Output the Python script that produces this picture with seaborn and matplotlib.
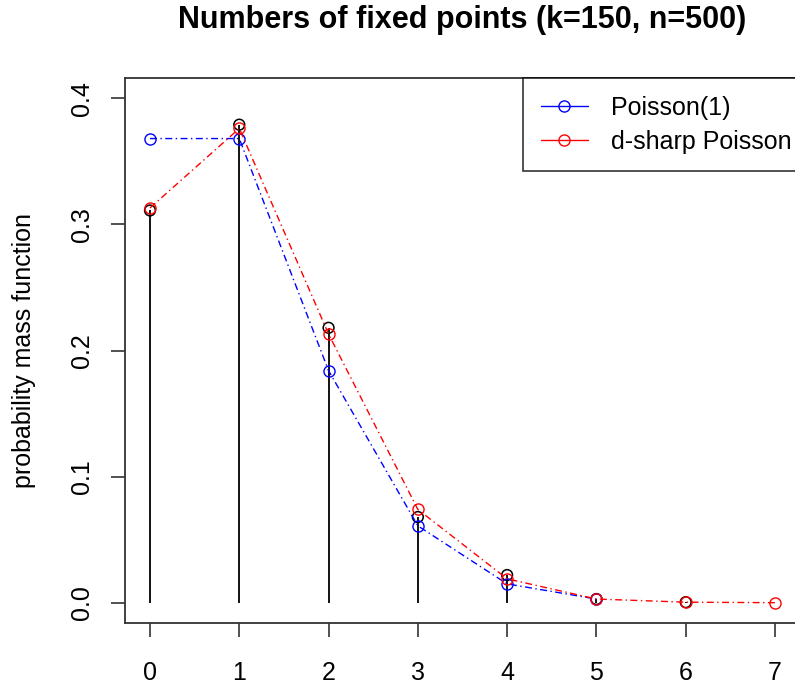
import numpy as np
import pandas as pd
import seaborn as sns
import matplotlib.pyplot as plt
from matplotlib.lines import Line2D

# значения
k_emp = [0, 1, 2, 3, 4, 5, 6]
pmf_emp = [0.311, 0.379, 0.218, 0.068, 0.022, 0.003, 0.0005]

k_pois = [0, 1, 2, 3, 4, 5]
pmf_pois = [0.368, 0.368, 0.184, 0.061, 0.015, 0.003]

k_dsharp = [0, 1, 2, 3, 4, 5, 6, 7]
pmf_dsharp = [0.313, 0.376, 0.213, 0.074, 0.019, 0.003, 0.0005, 0.0001]

sns.set_style("ticks")
plt.rcParams['font.family'] = ['Liberation Sans', 'DejaVu Sans']
plt.rcParams['text.color'] = 'black'
plt.rcParams['axes.labelcolor'] = 'black'

fig = plt.figure(figsize=(7.95, 6.88), dpi=100)
ax = fig.add_axes([125 / 795, 1 - 623 / 688, 675 / 795, 545 / 688])

# эмпирическое распределение: вертикальные линии + кружки
ax.vlines(k_emp, 0, pmf_emp, color='black', lw=1.3, zorder=2)
sns.scatterplot(x=k_emp, y=pmf_emp, ax=ax, marker='o', s=60, facecolors='none',
                edgecolor='black', linewidth=1.1, zorder=3)

dotdash = (0, (5, 2.5, 1, 2.5))
sns.lineplot(x=k_pois, y=pmf_pois, ax=ax, color='blue', marker='o', markersize=8,
             markerfacecolor='none', markeredgecolor='blue', markeredgewidth=1.0,
             linestyle=dotdash, lw=1.0, zorder=4)
sns.lineplot(x=k_dsharp, y=pmf_dsharp, ax=ax, color='red', marker='o', markersize=8,
             markerfacecolor='none', markeredgecolor='red', markeredgewidth=1.0,
             linestyle=dotdash, lw=1.0, zorder=5)

ax.set_xlim(-0.28, 7.28)
ax.set_ylim(-0.016, 0.416)
ax.set_xticks(range(8))
ax.set_yticks([0.0, 0.1, 0.2, 0.3, 0.4])
ax.set_yticklabels(['0.0', '0.1', '0.2', '0.3', '0.4'], rotation=90, va='center')
ax.tick_params(axis='both', labelsize=18, length=10, width=1.2, direction='out',
               colors='#333333', labelcolor='black')
ax.tick_params(axis='x', pad=17)
ax.tick_params(axis='y', pad=12)
for sp in ax.spines.values():
    sp.set_visible(True)
    sp.set_color('#333333')
    sp.set_linewidth(1.3)

ax.set_xlabel('')
ax.set_ylabel('probability mass function', fontsize=18)
ax.yaxis.set_label_coords(-0.149, 0.5)
ax.yaxis.label.set_va('center')
ax.set_title('Numbers of fixed points (k=150, n=500)', fontsize=22, fontweight='bold', pad=36)

handles = [
    Line2D([], [], color='blue', marker='o', markerfacecolor='none', markersize=8, lw=1.0),
    Line2D([], [], color='red', marker='o', markerfacecolor='none', markersize=8, lw=1.0),
]
leg = ax.legend(handles, ['Poisson(1)', 'd-sharp Poisson'], loc='upper right',
                bbox_to_anchor=(1.013, 1.0), fontsize=18, frameon=True, fancybox=False,
                borderaxespad=0, handlelength=1.9, borderpad=0.7, labelspacing=0.4,
                handletextpad=0.9)
leg.get_frame().set_edgecolor('black')
leg.get_frame().set_linewidth(1.2)

fig.savefig('out.png', dpi=100)
